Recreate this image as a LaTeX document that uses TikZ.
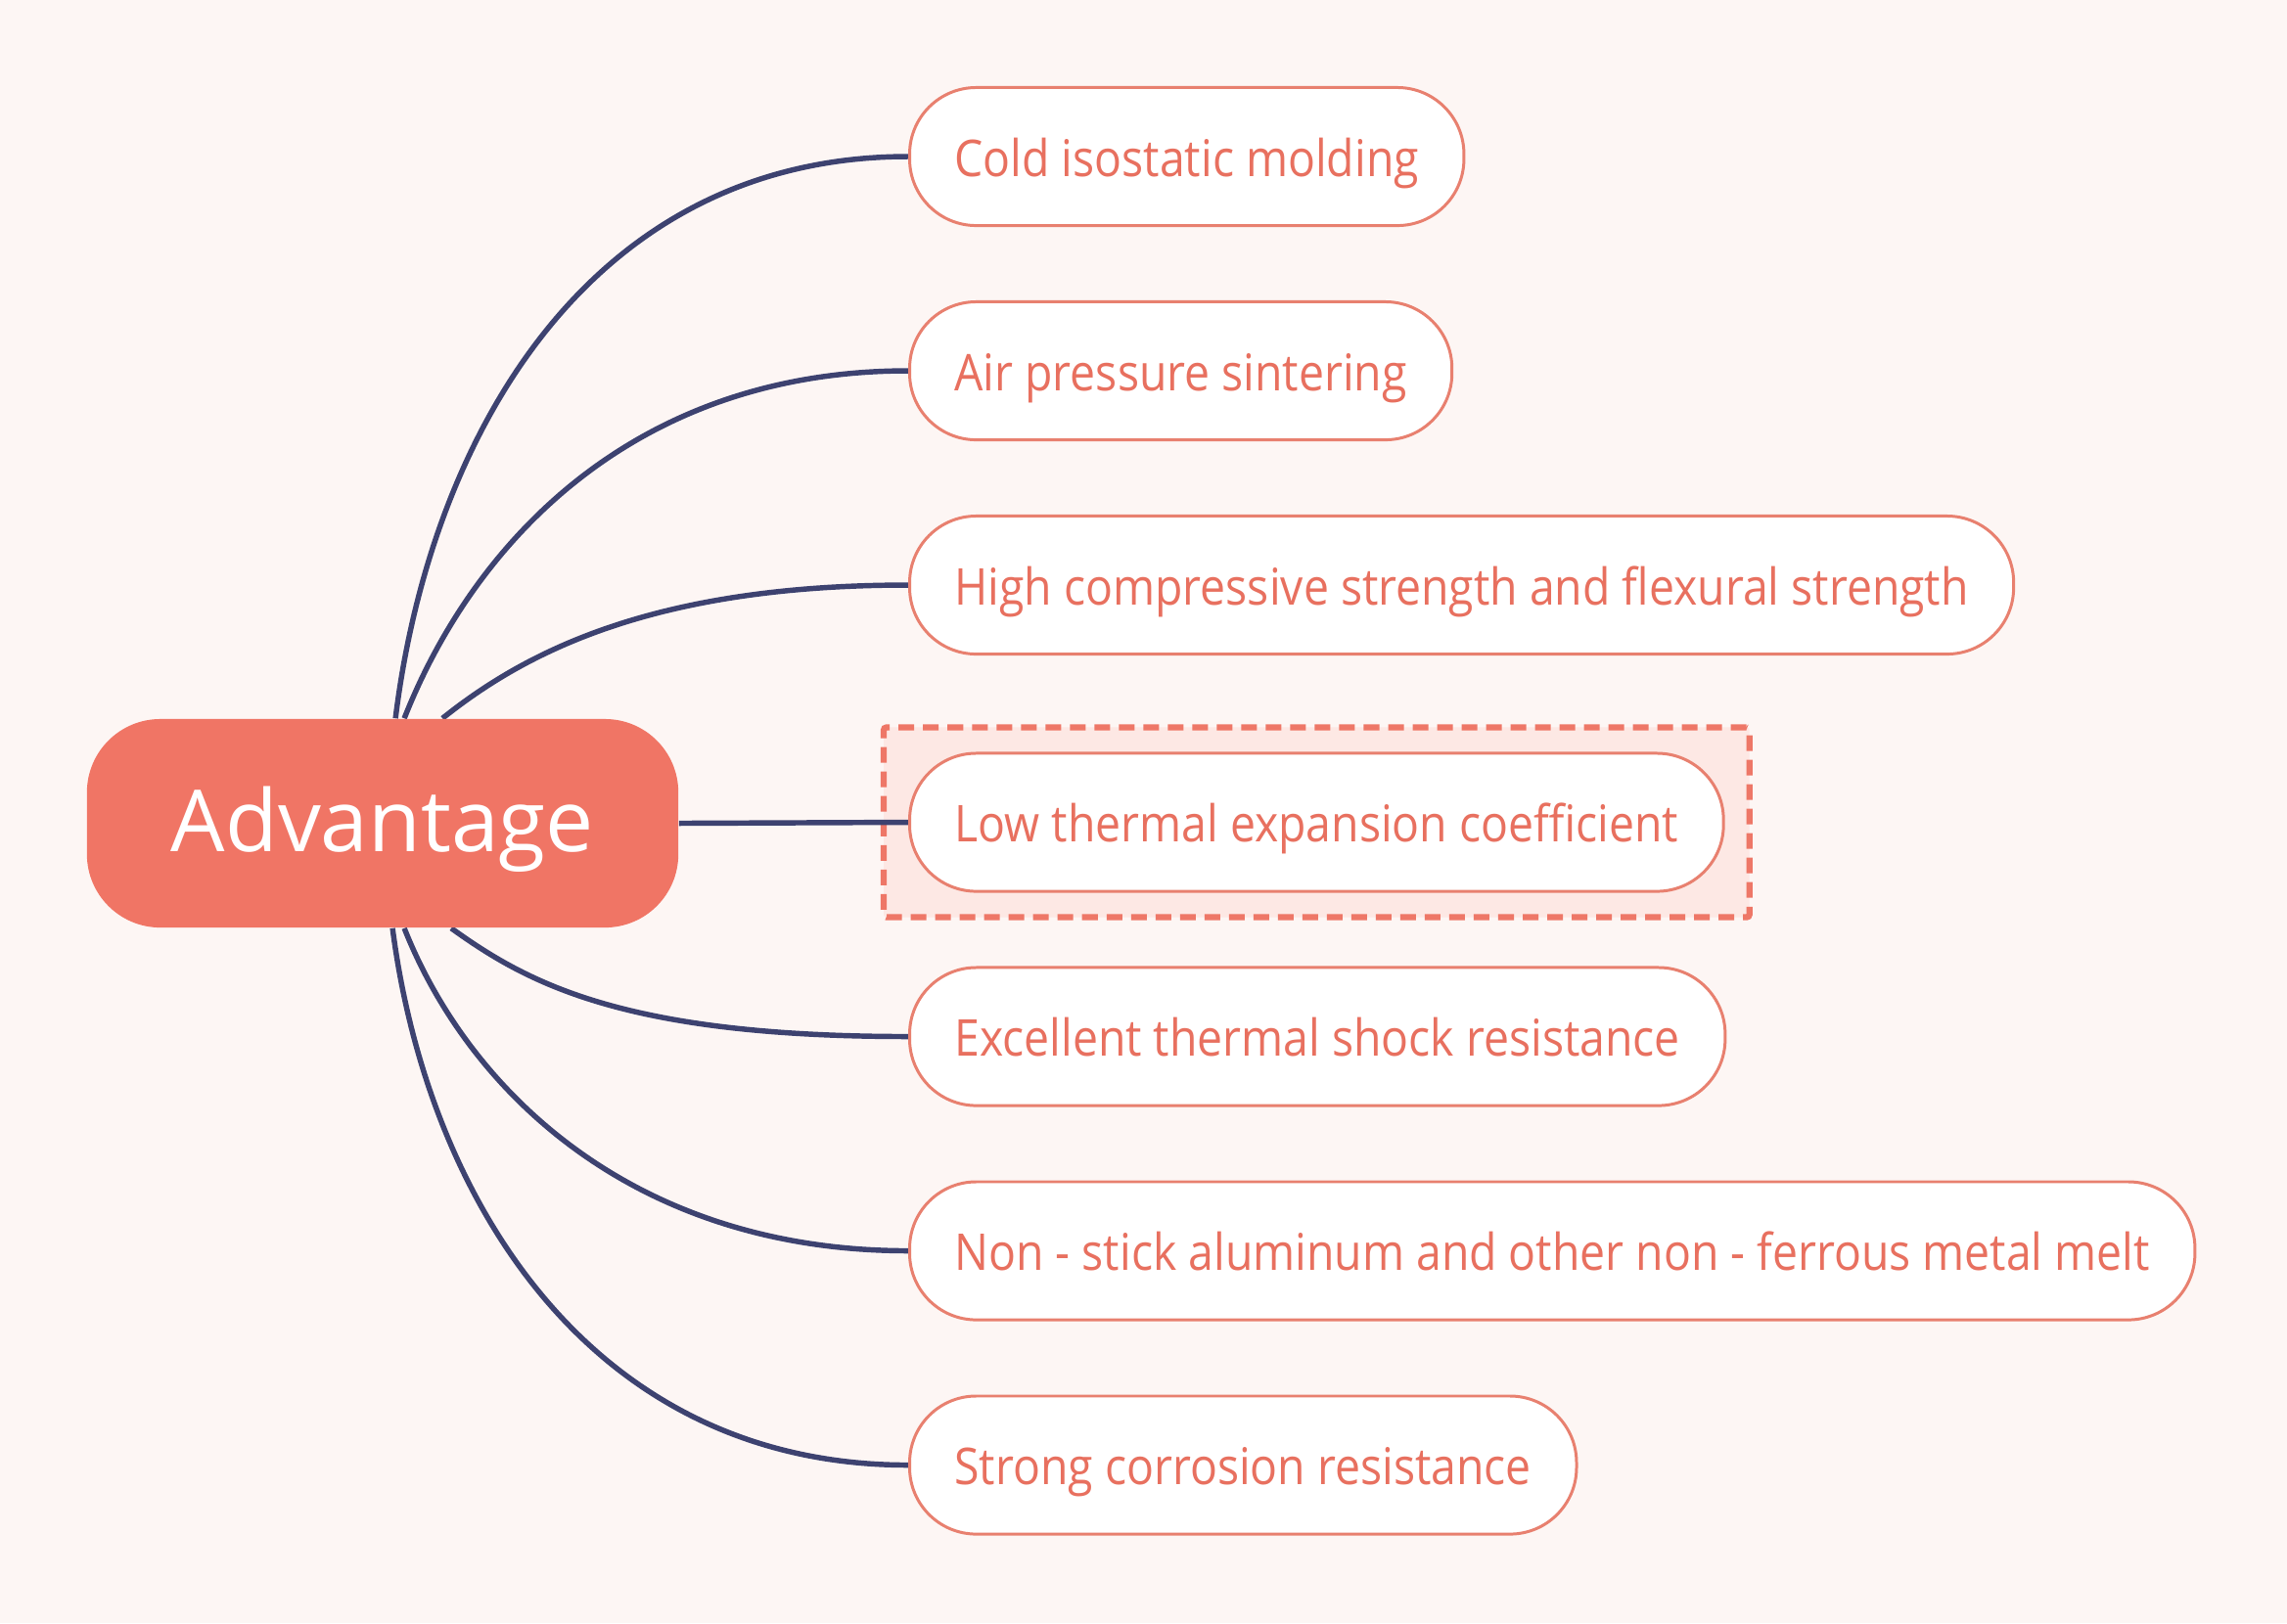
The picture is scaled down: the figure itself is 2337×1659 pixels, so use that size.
\documentclass[tikz,border=0pt]{standalone}
\usepackage{fontspec}
\setmainfont{Open Sans}
\newfontfamily\childfont[FakeStretch=0.894]{Open Sans}
\newfontfamily\advfont{Open Sans}
\usetikzlibrary{fit,calc}
\definecolor{bgc}{HTML}{FDF6F4}
\definecolor{advfill}{HTML}{F07565}
\definecolor{linec}{HTML}{3D4270}
\definecolor{childborder}{HTML}{E8806F}
\definecolor{childtext}{HTML}{E8705F}
\definecolor{selfill}{HTML}{FDE8E4}
\definecolor{seldraw}{HTML}{EE7767}
\pgfdeclarelayer{bg}
\pgfdeclarelayer{mid}
\pgfsetlayers{bg,mid,main}
\tikzset{
  advbox/.style={fill=advfill, draw=none, rounded corners=0.75cm,
    minimum width=6.04cm, minimum height=2.13cm, inner sep=0pt,
    text=white, font=\advfont\fontsize{24.9pt}{28pt}\selectfont,
    text height=1.86em, text depth=0.2em},
  childbox/.style={fill=white, draw=childborder, line width=0.85pt,
    rounded corners=0.68cm, minimum height=1.41cm, inner xsep=0.46cm, inner ysep=0pt,
    text=childtext, font=\childfont\fontsize{14.74pt}{17pt}\selectfont,
    text height=1.36em, text depth=0.2em, anchor=west},
  conn/.style={draw=linec, line width=1.55pt},
  selbox/.style={fill=selfill, draw=seldraw, line width=1.8pt,
    dash pattern=on 0.16cm off 0.09cm, rounded corners=0.03cm, inner sep=0.25cm}
}
\begin{document}
\begin{tikzpicture}[x=0.01cm,y=-0.01cm]
\begin{pgfonlayer}{bg}
\fill[bgc] (0,0) rectangle (2337,1659);
\end{pgfonlayer}
\useasboundingbox (0,0) rectangle (2337,1659);

\node[advbox] (adv) at (391,841.5) {Advantage};
\node[childbox] (c1) at (928,160) {Cold isostatic molding};
\node[childbox] (c2) at (928,379) {Air pressure sintering};
\node[childbox] (c3) at (928,598) {High compressive strength and flexural strength};
\node[childbox] (c4) at (928,840.5) {Low thermal expansion coefficient};
\node[childbox] (c5) at (928,1059.5) {Excellent thermal shock resistance};
\node[childbox] (c6) at (928,1278.5) {Non - stick aluminum and other non - ferrous metal melt};
\node[childbox] (c7) at (928,1497.5) {Strong corrosion resistance};

\begin{pgfonlayer}{mid}
\node[selbox, fit=(c4)] (sel) {};
\draw[conn] ($(adv.north west)+(316,0)$) .. controls +(35,-285) and +(-328,0) .. (c1.west);
\draw[conn] ($(adv.north west)+(325,0)$) .. controls +(71,-180) and +(-280,0) .. (c2.west);
\draw[conn] ($(adv.north west)+(364,0)$) .. controls +(85,-68) and +(-260,0) .. (c3.west);
\draw[conn] (adv.east) -- (c4.west);
\draw[conn] ($(adv.south west)+(373,0)$) .. controls +(78,56) and +(-291,0) .. (c5.west);
\draw[conn] ($(adv.south west)+(325,0)$) .. controls +(66,167) and +(-280,0) .. (c6.west);
\draw[conn] ($(adv.south west)+(313,0)$) .. controls +(35,272) and +(-328,0) .. (c7.west);
\end{pgfonlayer}
\end{tikzpicture}
\end{document}
